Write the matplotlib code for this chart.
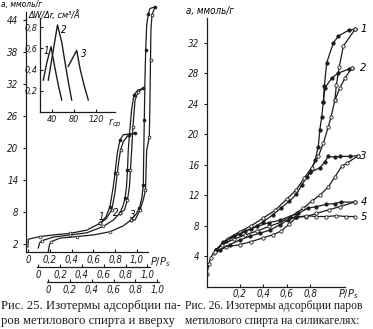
import numpy as np
import matplotlib.pyplot as plt

W, H = 373, 329
INK = '#1c1c1c'

# ---------- Рис. 25: изотермы, x в долях P/Ps своей оси, y в ммоль/г
# кривая 1: общая нижняя часть, левая ветвь (A) и правая ветвь (B)
c1_low_x = [0.0, 0.003, 0.11, 0.232, 0.385, 0.539, 0.661]
c1_low_y = [1.45, 2.9, 3.4, 3.7, 4.0, 4.6, 5.9]
c1_a_x = [0.661, 0.716, 0.752, 0.783, 0.798, 0.819, 0.844, 0.874, 0.982]
c1_a_y = [5.9, 7.1, 9.0, 12.8, 15.3, 19.0, 21.5, 22.5, 22.8]
c1_b_x = [0.661, 0.716, 0.768, 0.798, 0.819, 0.835, 0.849, 0.874, 0.92, 0.982]
c1_b_y = [5.9, 6.7, 8.4, 11.6, 15.3, 17.8, 19.6, 21.2, 22.5, 22.8]

c2_low_x = [0.0, 0.011, 0.031, 0.137, 0.29, 0.444, 0.596, 0.688, 0.749]
c2_low_y = [1.25, 2.2, 2.6, 3.3, 3.7, 4.1, 5.3, 6.5, 7.8]
c2_a_x = [0.749, 0.779, 0.795, 0.809, 0.818, 0.825, 0.836, 0.855, 0.877, 0.914, 0.963]
c2_a_y = [7.8, 9.3, 10.6, 12.8, 15.9, 19.6, 22.5, 27.1, 30.0, 30.9, 31.2]
c2_b_x = [0.749, 0.79, 0.818, 0.836, 0.845, 0.856, 0.868, 0.887, 0.917, 0.963]
c2_b_y = [7.8, 8.4, 10.3, 12.8, 15.9, 19.6, 24.0, 29.0, 30.6, 31.2]

c3_low_x = [0.0, 0.011, 0.022, 0.108, 0.261, 0.413, 0.566, 0.688, 0.759]
c3_low_y = [0.56, 1.8, 2.4, 3.1, 3.4, 3.7, 4.3, 5.4, 6.5]
c3_a_x = [0.759, 0.805, 0.837, 0.86, 0.872, 0.875, 0.881, 0.887, 0.894, 0.903, 0.918, 0.933, 0.979]
c3_a_y = [6.5, 7.6, 8.8, 10.8, 13.1, 17.8, 25.3, 32.8, 38.4, 43.1, 45.2, 46.2, 46.5]
c3_b_x = [0.759, 0.796, 0.842, 0.872, 0.892, 0.903, 0.927, 0.933, 0.938, 0.942, 0.952, 0.979]
c3_b_y = [6.5, 6.5, 8.4, 10.3, 12.1, 19.6, 22.1, 29.0, 36.5, 42.2, 45.0, 46.5]

axis_offsets = [0.0, 0.095, 0.186]
iso_labels = ['1', '2', '3']
iso_label_x = [0.67, 0.81, 0.96]
iso_label_y = [7.1, 7.9, 7.5]

left_yticks = [2, 8, 14, 20, 26, 32, 38, 44]
pp_ticks = [0.0, 0.2, 0.4, 0.6, 0.8, 1.0]
pp_ticklabels = ['0', '0,2', '0,4', '0,6', '0,8', '1,0']

# ---------- вставка: распределение пор, r_ср (Å) и ΔW/Δr
ins1_r = [24.2, 30.4, 38.2, 45.5, 51.5, 57.6]
ins1_v = [0.30, 0.46, 0.615, 0.41, 0.254, 0.113]
ins2_r = [33.3, 50.0, 57.6, 63.6, 69.6, 75.8]
ins2_v = [0.30, 0.82, 0.66, 0.47, 0.285, 0.113]
ins3_r = [69.6, 84.9, 90.9, 98.2, 106.0]
ins3_v = [0.43, 0.58, 0.41, 0.254, 0.113]
ins_label_r = [30.4, 60.6, 97.0]
ins_label_v = [0.57, 0.77, 0.55]
ins_xticks = [40, 80, 120]
ins_yticks = [0.2, 0.4, 0.6, 0.8]
ins_yticklabels = ['0,2', '0,4', '0,6', '0,8']

# ---------- Рис. 26: изотермы на силикагелях (ads - залитые, des - пустые)
r_start_x = [-0.076, -0.06, -0.045, -0.02, 0.0]
r_start_y = [1.7, 2.9, 3.8, 4.4, 4.8]
r1_ads_x = [0.0, 0.087, 0.2, 0.3, 0.4, 0.48, 0.55, 0.62, 0.68, 0.73, 0.77, 0.80, 0.84,
            0.867, 0.88, 0.896, 0.91, 0.918, 0.938, 0.994, 1.036, 1.13, 1.178]
r1_ads_y = [4.8, 6.0, 6.9, 7.6, 8.5, 9.4, 10.3, 11.2, 12.1, 13.4, 14.4, 15.0, 16.6,
            18.4, 20.6, 22.3, 24.3, 26.3, 29.4, 32.0, 32.9, 33.75, 33.8]
r1_des_x = [1.178, 1.079, 1.045, 1.02, 1.008, 0.975, 0.952, 0.909, 0.867, 0.81, 0.75,
            0.68, 0.6, 0.5, 0.4, 0.3, 0.2, 0.1, 0.0]
r1_des_y = [33.8, 31.6, 28.9, 26.5, 24.5, 22.3, 21.0, 18.8, 17.1, 15.6, 14.3,
            12.7, 11.5, 10.0, 9.0, 8.0, 7.2, 6.3, 4.8]
r2_ads_x = [0.91, 0.924, 0.98, 1.036, 1.13, 1.15]
r2_ads_y = [24.3, 26.1, 27.4, 28.05, 28.6, 28.7]
r2_des_x = [1.15, 1.093, 1.05, 1.008]
r2_des_y = [28.7, 27.4, 26.1, 24.5]
r3_ads_x = [0.80, 0.88, 0.924, 0.95, 1.01, 1.05, 1.136, 1.206]
r3_ads_y = [15.0, 15.6, 16.4, 17.1, 17.0, 17.1, 17.1, 17.2]
r3_des_x = [1.206, 1.108, 1.065, 1.008, 0.952, 0.88, 0.81, 0.74, 0.684, 0.613,
            0.54, 0.45, 0.35, 0.25, 0.15, 0.05, 0.0]
r3_des_y = [17.2, 16.2, 15.8, 14.4, 13.1, 12.0, 11.2, 10.3, 9.7, 9.0,
            8.4, 7.9, 7.3, 6.8, 6.2, 5.5, 4.8]
r4_ads_x = [0.0, 0.06, 0.15, 0.25, 0.35, 0.45, 0.54, 0.625, 0.695, 0.78, 0.85, 0.935,
            1.006, 1.06, 1.175]
r4_ads_y = [4.8, 5.8, 6.6, 7.3, 7.9, 8.4, 8.7, 9.2, 9.6, 10.3, 10.5, 10.8,
            10.9, 11.1, 11.1]
r4_des_x = [1.175, 1.05, 0.96, 0.85, 0.765, 0.68, 0.6]
r4_des_y = [11.1, 10.5, 10.1, 9.6, 9.2, 9.1, 8.9]
r5_ads_x = [-0.01, 0.087, 0.2, 0.3, 0.4, 0.483, 0.553, 0.62, 0.68, 0.765, 0.85, 0.935,
            1.02, 1.10, 1.175]
r5_ads_y = [4.5, 5.2, 5.5, 5.9, 6.4, 6.8, 7.3, 8.2, 9.1, 9.3, 9.2, 9.2, 9.3, 9.2, 9.2]
r5_des_x = [0.68, 0.61, 0.54, 0.455, 0.37, 0.285, 0.2, 0.116, 0.03]
r5_des_y = [9.2, 8.75, 8.1, 7.4, 7.0, 6.6, 6.1, 5.5, 4.8]
right_labels = ['1', '2', '3', '4', '5']
right_label_y = [33.8, 28.7, 17.2, 11.1, 9.2]
right_yticks = [4, 8, 12, 16, 20, 24, 28, 32]
right_xticks = [0.2, 0.4, 0.6, 0.8]
right_xticklabels = ['0,2', '0,4', '0,6', '0,8']

caption_left = ['Рис. 25. Изотермы адсорбции па-', 'ров метилового спирта и вверху']
caption_right = ['Рис. 26. Изотермы адсорбции паров', 'метилового спирта на силикагелях:']

TICKFONT = dict(family='DejaVu Sans', style='italic', stretch='condensed', size=7)


def px_box(x0, y0, x1, y1):
    # прямоугольник в пикселях (сверху вниз) -> доли фигуры
    return [x0 / W, 1 - y1 / H, (x1 - x0) / W, (y1 - y0) / H]


def style_ticks(ax):
    for lab in ax.get_xticklabels() + ax.get_yticklabels():
        lab.set(**TICKFONT)


def curve(ax, x, y, filled=None, ms=2.4, off=0.0, every=1):
    x = np.asarray(x) + off
    ax.plot(x, y, color=INK, lw=0.9, solid_capstyle='round')
    if filled is not None:
        ax.plot(x[::every], y[::every], ls='none', marker='o', ms=ms, mew=0.6, mec=INK,
                mfc=INK if filled else 'white')


fig = plt.figure(figsize=(W / 100, H / 100), dpi=100)

# ---------------- левый график
ax1 = fig.add_axes(px_box(26, 0, 165, 252))
ax1.set_xlim(-0.018, 1.257)
ax1.set_ylim(0.5, 47.8)
ax1.patch.set_visible(False)
for s in ['top', 'right']:
    ax1.spines[s].set_visible(False)
ax1.spines['left'].set_bounds(0.5, 45.5)
ax1.spines['bottom'].set_bounds(-0.018, 1.10)
for s in ['left', 'bottom']:
    ax1.spines[s].set_linewidth(0.9)
    ax1.spines[s].set_color(INK)
ax1.set_yticks(left_yticks)
ax1.set_xticks(pp_ticks, pp_ticklabels)
ax1.tick_params(axis='y', direction='out', length=2.5, width=0.8, pad=3, colors=INK)
ax1.tick_params(axis='x', direction='in', length=2.5, width=0.8, pad=2, colors=INK)
style_ticks(ax1)

groups = [(c1_low_x, c1_low_y, c1_a_x, c1_a_y, c1_b_x, c1_b_y),
          (c2_low_x, c2_low_y, c2_a_x, c2_a_y, c2_b_x, c2_b_y),
          (c3_low_x, c3_low_y, c3_a_x, c3_a_y, c3_b_x, c3_b_y)]
for (lx, ly, ax_, ay_, bx_, by_), off in zip(groups, axis_offsets):
    ax1.plot(np.asarray(lx) + off, ly, color=INK, lw=0.9)
    ax1.plot(np.asarray(lx[2::2]) + off, ly[2::2], ls='none', marker='o', ms=2.0,
             mew=0.5, mec=INK, mfc='white')
    curve(ax1, ax_, ay_, filled=True, ms=2.0, off=off, every=2)
    curve(ax1, bx_, by_, filled=False, ms=2.0, off=off, every=2)
for lab, lxp, lyp in zip(iso_labels, iso_label_x, iso_label_y):
    ax1.text(lxp, lyp, lab, ha='center', va='center', **TICKFONT)
ax1.text(1.12, -1.4, r'$P/P_s$', ha='left', va='center', fontsize=7, color=INK)
fig.text(1 / W, 1 - 4 / H, 'а, ммоль/г', ha='left', va='center', **dict(TICKFONT, size=6))

# дополнительные оси P/Ps для кривых 2 и 3
for py, off in zip([267, 282], axis_offsets[1:]):
    axb = fig.add_axes(px_box(26, py - 1, 165, py))
    axb.set_xlim(-0.018 - off, 1.257 - off)
    axb.set_ylim(0, 1)
    axb.patch.set_visible(False)
    for s in ['top', 'right', 'left']:
        axb.spines[s].set_visible(False)
    axb.spines['bottom'].set_bounds(-0.012, 1.02)
    axb.spines['bottom'].set_linewidth(0.9)
    axb.spines['bottom'].set_color(INK)
    axb.set_yticks([])
    axb.set_xticks(pp_ticks, pp_ticklabels)
    axb.tick_params(axis='x', direction='in', length=2.5, width=0.8, pad=2, colors=INK)
    style_ticks(axb)

# ---------------- вставка
axi = fig.add_axes(px_box(40, 18, 115, 112))
axi.set_xlim(18.2, 154.5)
axi.set_ylim(0, 0.885)
axi.patch.set_visible(False)
for s in ['top', 'right']:
    axi.spines[s].set_visible(False)
for s in ['left', 'bottom']:
    axi.spines[s].set_linewidth(0.9)
    axi.spines[s].set_color(INK)
axi.set_xticks(ins_xticks)
axi.set_yticks(ins_yticks, ins_yticklabels)
axi.tick_params(direction='in', length=2.5, width=0.8, pad=2, colors=INK)
style_ticks(axi)
for lab in axi.get_xticklabels() + axi.get_yticklabels():
    lab.set_fontsize(6.5)
for rx, vy in [(ins1_r, ins1_v), (ins2_r, ins2_v), (ins3_r, ins3_v)]:
    axi.plot(rx, vy, color=INK, lw=1.0)
for lab, rx, vy in zip(iso_labels, ins_label_r, ins_label_v):
    axi.text(rx, vy, lab, ha='center', va='center', **TICKFONT)
axi.text(1.0, -0.115, r'$r_{ср}$', transform=axi.transAxes, ha='center', va='center',
         fontsize=7, color=INK)
fig.text(29 / W, 1 - 15 / H, 'ΔW/Δr, см³/Å', ha='left', va='center',
         **dict(TICKFONT, size=6.5))

# ---------------- правый график
ax2 = fig.add_axes(px_box(207, 5, 372, 286.5))
ax2.set_xlim(-0.076, 1.322)
ax2.set_ylim(0, 37.0)
ax2.patch.set_visible(False)
for s in ['top', 'right']:
    ax2.spines[s].set_visible(False)
ax2.spines['left'].set_bounds(0, 35.3)
ax2.spines['bottom'].set_bounds(-0.076, 1.09)
for s in ['left', 'bottom']:
    ax2.spines[s].set_linewidth(0.9)
    ax2.spines[s].set_color(INK)
ax2.set_yticks(right_yticks)
ax2.set_xticks(right_xticks, right_xticklabels)
ax2.tick_params(axis='y', direction='out', length=2.5, width=0.8, pad=3, colors=INK)
ax2.tick_params(axis='x', direction='in', length=2.5, width=0.8, pad=1.5, colors=INK)
style_ticks(ax2)

curve(ax2, r_start_x, r_start_y, filled=False)
curve(ax2, r1_ads_x, r1_ads_y, filled=True)
curve(ax2, r1_des_x, r1_des_y, filled=False)
curve(ax2, r2_ads_x, r2_ads_y, filled=True)
curve(ax2, r2_des_x, r2_des_y, filled=False)
curve(ax2, r3_ads_x, r3_ads_y, filled=True)
curve(ax2, r3_des_x, r3_des_y, filled=False)
curve(ax2, r4_ads_x, r4_ads_y, filled=True)
curve(ax2, r4_des_x, r4_des_y, filled=False)
curve(ax2, r5_ads_x, r5_ads_y, filled=False)
curve(ax2, r5_des_x, r5_des_y, filled=True)
for lab, ly in zip(right_labels, right_label_y):
    ax2.text(1.25, ly, lab, ha='center', va='center', **dict(TICKFONT, size=8))
ax2.text(1.03, -1.0, r'$P/P_s$', ha='left', va='center', fontsize=7, color=INK)
fig.text(186 / W, 1 - 11 / H, 'a, ммоль/г', ha='left', va='center', **TICKFONT)

# ---------------- подписи
for i, line in enumerate(caption_left):
    fig.text(1 / W, 1 - (306 + 15 * i) / H, line, ha='left', va='center',
             family='Liberation Serif', fontsize=9.2, color=INK)
for i, line in enumerate(caption_right):
    fig.text(185 / W, 1 - (306 + 15 * i) / H, line, ha='left', va='center',
             family='Liberation Serif', fontsize=8.4, color=INK)

fig.savefig('out.png', dpi=100)
